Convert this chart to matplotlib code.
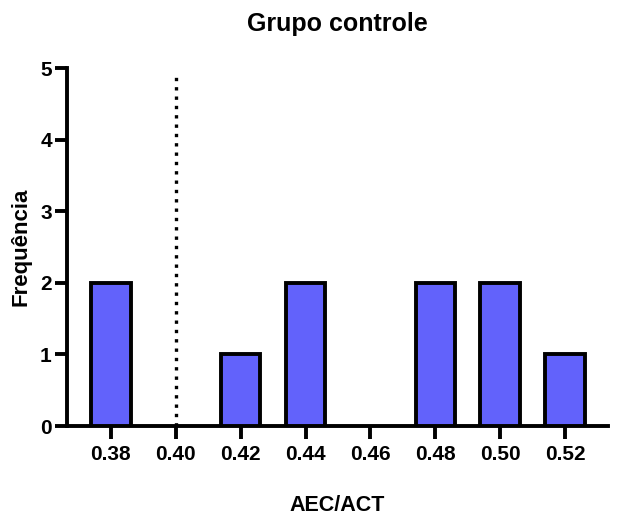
import matplotlib.pyplot as plt

# bin centres and counts
bins = [0.38, 0.42, 0.44, 0.48, 0.50, 0.52]
counts = [2, 1, 2, 2, 2, 1]
xticks = [0.38, 0.40, 0.42, 0.44, 0.46, 0.48, 0.50, 0.52]
yticks = [0, 1, 2, 3, 4, 5]
cutoff = 0.40

plt.rcParams['font.family'] = ['Liberation Sans', 'DejaVu Sans']
plt.rcParams['font.weight'] = 'bold'

fig = plt.figure(figsize=(6.21, 5.17), dpi=100)
ax = fig.add_axes([0.108, 0.176, 0.871, 0.692])

ax.bar(bins, counts, width=0.0122, color='#6262fb', edgecolor='black', linewidth=2.8, zorder=3)
ax.plot([cutoff, cutoff], [0, 4.9], linestyle=(0, (1, 1.8)), color='black', linewidth=2.4, zorder=2)

ax.set_xlim(0.3665, 0.5332)
ax.set_ylim(0, 5)
ax.set_xticks(xticks)
ax.set_xticklabels([f"{t:.2f}" for t in xticks])
ax.set_yticks(yticks)

for s in ['top', 'right']:
    ax.spines[s].set_visible(False)
for s in ['left', 'bottom']:
    ax.spines[s].set_linewidth(2.8)
ax.tick_params(axis='both', length=9, width=2.8, labelsize=15, pad=5)
ax.tick_params(axis='y', pad=2)

ax.set_title("Grupo controle", fontsize=18, fontweight='bold', pad=27)
ax.set_xlabel("AEC/ACT", fontsize=15.5, fontweight='bold', labelpad=22)
ax.set_ylabel("Frequência", fontsize=16, fontweight='bold', labelpad=6)

fig.savefig("out.png", dpi=100)
